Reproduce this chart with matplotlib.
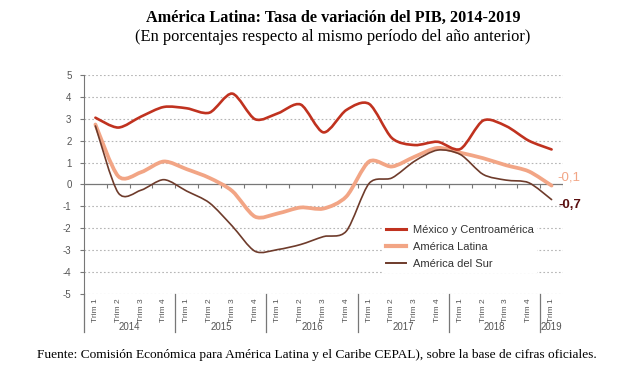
import numpy as np
import matplotlib.pyplot as plt
from matplotlib.path import Path
from matplotlib.patches import PathPatch
from matplotlib.lines import Line2D

years = ['2014', '2015', '2016', '2017', '2018', '2019']
quarters = ['Trim 1', 'Trim 2', 'Trim 3', 'Trim 4'] * 5 + ['Trim 1']

mexico = [3.05, 2.6, 3.1, 3.54, 3.48, 3.28, 4.15, 2.98, 3.25, 3.65, 2.38, 3.4,
          3.68, 2.12, 1.8, 1.95, 1.62, 2.92, 2.67, 2.0, 1.6]
latina = [2.74, 0.38, 0.56, 1.05, 0.7, 0.3, -0.3, -1.47, -1.32, -1.05, -1.1, -0.55,
          1.05, 0.82, 1.27, 1.67, 1.45, 1.2, 0.88, 0.6, -0.05]
sur = [2.67, -0.38, -0.26, 0.22, -0.3, -0.84, -1.9, -3.05, -2.97, -2.74, -2.38, -2.13,
       0.05, 0.3, 1.07, 1.57, 1.37, 0.46, 0.2, 0.08, -0.69]

col_mex = '#C0321F'
col_lat = '#F2A585'
col_sur = '#6E3B2B'
txt_gray = '#555555'
sans = ['Liberation Sans', 'DejaVu Sans']


def smooth_path(y):
    # catmull-rom -> bezier, drawn by matplotlib Path
    x = np.arange(len(y), dtype=float)
    y = np.asarray(y, dtype=float)
    pts = np.column_stack([x, y])
    verts = [pts[0]]
    codes = [Path.MOVETO]
    n = len(pts)
    for i in range(n - 1):
        p0 = pts[max(i - 1, 0)]
        p1 = pts[i]
        p2 = pts[i + 1]
        p3 = pts[min(i + 2, n - 1)]
        verts += [p1 + (p2 - p0) / 7, p2 - (p3 - p1) / 7, p2]
        codes += [Path.CURVE4] * 3
    return Path(verts, codes)


fig = plt.figure(figsize=(6.34, 3.82), dpi=100)
ax = fig.add_axes([0.1325, 0.2304, 0.7555, 0.5733])

x = np.arange(len(quarters))
ax.set_xlim(-0.5, 20.5)
ax.set_ylim(-5, 5)

for v in range(-5, 6):
    if v != 0:
        ax.axhline(v, color='#b5b5b5', lw=0.8, ls=(0, (1.5, 2)), zorder=0)
ax.axhline(0, color='#777777', lw=0.9, zorder=1)
ax.vlines(x + 0.5, -0.18, 0, color='#777777', lw=0.8, zorder=1)

for series, c, lw in [(latina, col_lat, 2.7), (sur, col_sur, 1.2), (mexico, col_mex, 1.9)]:
    ax.add_patch(PathPatch(smooth_path(series), facecolor='none', edgecolor=c,
                           lw=lw, capstyle='round', zorder=3))

handles = [Line2D([], [], color=col_mex, lw=2.2),
           Line2D([], [], color=col_lat, lw=3.0),
           Line2D([], [], color=col_sur, lw=1.4)]
leg = ax.legend(handles, ['México y Centroamérica', 'América Latina', 'América del Sur'],
                loc='upper left', bbox_to_anchor=(0.612, 0.356), frameon=True,
                fancybox=False, edgecolor='none', facecolor='white', framealpha=1,
                handlelength=1.8, handletextpad=0.6, labelspacing=0.65,
                borderpad=0.3, prop={'family': sans, 'size': 8})
for t in leg.get_texts():
    t.set_color('#333333')

ax.text(x[-1] + 0.25, latina[-1] + 0.35, '-0,1', color=col_lat, fontsize=9.5,
        family=sans, ha='left', va='center')
ax.text(x[-1] + 0.3, sur[-1] - 0.25, '-0,7', color='#5A0F10', fontsize=9.5,
        family=sans, weight='bold', ha='left', va='center')

for s in ['top', 'right', 'bottom']:
    ax.spines[s].set_visible(False)
ax.spines['left'].set_color('#777777')
ax.spines['left'].set_bounds(-5, 5)

ax.set_yticks(range(-5, 6))
ax.set_yticklabels([str(v) for v in range(-5, 6)], family=sans, fontsize=7,
                   color=txt_gray)
ax.tick_params(axis='y', length=3, color='#777777', pad=6)

ax.set_xticks(x)
ax.set_xticklabels(quarters, rotation=90, family=sans, fontsize=6,
                   color=txt_gray)
ax.tick_params(axis='x', length=0, pad=3)

# year separators and labels below the axis
trans = ax.get_xaxis_transform()
for b in [-0.5, 3.5, 7.5, 11.5, 15.5, 19.5]:
    ax.plot([b, b], [0, -0.175], color='#777777', lw=0.9, transform=trans,
            clip_on=False)
for i, yr in enumerate(years):
    xc = 1.5 + 4 * i if i < 5 else 20
    ax.text(xc, -0.15, yr, transform=trans, ha='center', va='center',
            family=sans, fontsize=7, color=txt_gray)

fig.text(0.525, 0.952, 'América Latina: Tasa de variación del PIB, 2014-2019',
         ha='center', va='center', family='Liberation Serif', weight='bold',
         fontsize=11.7)
fig.text(0.525, 0.903, '(En porcentajes respecto al mismo período del año anterior)',
         ha='center', va='center', family='Liberation Serif', fontsize=11.9)
fig.text(0.5, 0.07, 'Fuente: Comisión Económica para América Latina y el Caribe CEPAL), '
         'sobre la base de cifras oficiales.', ha='center', va='center',
         family='Liberation Serif', fontsize=9.6)

fig.savefig('out.png', dpi=100)
